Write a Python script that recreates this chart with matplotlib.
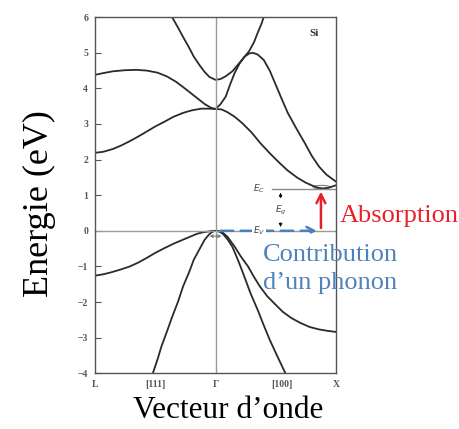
import numpy as np
import matplotlib.pyplot as plt
from matplotlib.patches import Ellipse

plt.rcParams['font.family'] = ['Liberation Serif', 'DejaVu Serif']

# Band structure of Si
# k: -1 = L, 0 = Gamma, 1 = X ; energies in eV
# conduction bands, L side
kc1_L = [-1.0, -0.93, -0.85, -0.75, -0.66, -0.57, -0.48, -0.40, -0.33, -0.27,
         -0.21, -0.15, -0.09, -0.04, 0.0]
Ec1_L = [4.38, 4.43, 4.48, 4.51, 4.52, 4.50, 4.44, 4.33, 4.19, 4.04,
         3.88, 3.72, 3.56, 3.46, 3.42]
kc2_L = [-1.0, -0.93, -0.85, -0.78, -0.71, -0.64, -0.57, -0.50, -0.42, -0.35,
         -0.27, -0.20, -0.12, -0.05, 0.0]
Ec2_L = [2.19, 2.22, 2.30, 2.40, 2.52, 2.65, 2.79, 2.93, 3.07, 3.20,
         3.31, 3.38, 3.43, 3.43, 3.42]
# upper band around Gamma
kc3 = [-0.36, -0.31, -0.27, -0.22, -0.18, -0.13, -0.09, -0.05, 0.0, 0.04,
       0.085, 0.14, 0.19, 0.24, 0.28, 0.32, 0.35, 0.38, 0.40]
Ec3 = [6.0, 5.7, 5.45, 5.15, 4.89, 4.64, 4.46, 4.32, 4.24, 4.26,
       4.34, 4.48, 4.68, 4.88, 5.05, 5.3, 5.56, 5.8, 6.0]
# conduction bands, X side
kc1_X = [0.0, 0.04, 0.085, 0.12, 0.16, 0.20, 0.24, 0.28, 0.31, 0.35, 0.40,
         0.45, 0.50, 0.55, 0.60, 0.67, 0.74, 0.80, 0.86, 0.92, 1.0]
Ec1_X = [3.42, 3.55, 3.77, 4.10, 4.44, 4.70, 4.89, 4.98, 5.0, 4.95, 4.80,
         4.50, 4.10, 3.70, 3.31, 2.88, 2.47, 2.10, 1.80, 1.58, 1.38]
kc2_X = [0.0, 0.05, 0.10, 0.16, 0.22, 0.30, 0.37, 0.45, 0.53, 0.60, 0.68,
         0.75, 0.81, 0.85, 0.89, 0.94, 1.0]
Ec2_X = [3.42, 3.41, 3.33, 3.20, 3.03, 2.76, 2.47, 2.18, 1.91, 1.69, 1.49,
         1.35, 1.26, 1.21, 1.19, 1.21, 1.28]

# valence bands
kv1_L = [-1.0, -0.93, -0.87, -0.79, -0.71, -0.64, -0.57, -0.50, -0.42, -0.34,
         -0.27, -0.20, -0.15, -0.10, -0.04, 0.0]
Ev1_L = [-1.26, -1.22, -1.17, -1.09, -1.0, -0.89, -0.76, -0.62, -0.48, -0.35,
         -0.25, -0.15, -0.08, -0.04, -0.01, 0.0]
kv2_L = [-0.52, -0.48, -0.45, -0.40, -0.36, -0.31, -0.27, -0.22, -0.18, -0.13,
         -0.09, -0.05, -0.02, 0.0]
Ev2_L = [-4.0, -3.6, -3.26, -2.8, -2.42, -1.98, -1.57, -1.17, -0.81, -0.5,
         -0.25, -0.09, -0.02, 0.0]
kv1_X = [0.0, 0.03, 0.06, 0.10, 0.16, 0.21, 0.27, 0.32, 0.37, 0.43, 0.50,
         0.56, 0.63, 0.70, 0.78, 0.86, 0.93, 1.0]
Ev1_X = [0.0, -0.01, -0.05, -0.17, -0.45, -0.72, -1.0, -1.3, -1.57, -1.84, -2.08,
         -2.28, -2.45, -2.58, -2.70, -2.77, -2.81, -2.84]
kv2_X = [0.0, 0.03, 0.06, 0.10, 0.14, 0.19, 0.24, 0.29, 0.35, 0.40, 0.45,
         0.51, 0.58]
Ev2_X = [0.0, -0.02, -0.08, -0.24, -0.45, -0.85, -1.29, -1.75, -2.22, -2.65, -3.06,
         -3.5, -4.0]

bands = [(kc1_L, Ec1_L), (kc2_L, Ec2_L), (kc3, Ec3), (kc1_X, Ec1_X),
         (kc2_X, Ec2_X), (kv1_L, Ev1_L), (kv2_L, Ev2_L), (kv1_X, Ev1_X),
         (kv2_X, Ev2_X)]

E_c = 1.18
E_v = 0.0
k_abs = 0.875

yticks = [6, 5, 4, 3, 2, 1, 0, -1, -2, -3, -4]
kticks = [-1, -0.5, 0, 0.55, 1]
klabels = ['L', '[111]', 'Γ', '[100]', 'X']

fig = plt.figure(figsize=(4.59, 4.29), dpi=100)
ax = fig.add_axes([0.207, 0.130, 0.525, 0.830])

for k, E in bands:
    ax.plot(k, E, color='#2a2a2a', lw=1.3, solid_joinstyle='round',
            solid_capstyle='round')

# guide lines
ax.axvline(0, color='#9a9a9a', lw=1.0)
ax.axhline(E_v, color='#9a9a9a', lw=1.0)
ax.plot([0.47, 1], [E_c, E_c], color='#8a8a8a', lw=1.0)

# phonon (blue dashed) and photon absorption (red)
ax.annotate('', xy=(k_abs - 0.01, E_v), xytext=(0.02, E_v),
            arrowprops=dict(arrowstyle='->', color='#4a7fc0', lw=1.8,
                            linestyle=(0, (5, 3)), mutation_scale=14))
ax.annotate('', xy=(k_abs, E_c), xytext=(k_abs, E_v),
            arrowprops=dict(arrowstyle='->', color='#e8202a', lw=1.8,
                            mutation_scale=16))
# small E_g marker
ax.annotate('', xy=(0.54, E_c - 0.03), xytext=(0.54, 0.85),
            arrowprops=dict(arrowstyle='-|>', color='black', lw=0.6, mutation_scale=5))
ax.annotate('', xy=(0.54, E_v + 0.03), xytext=(0.54, 0.3),
            arrowprops=dict(arrowstyle='-|>', color='black', lw=0.6, mutation_scale=5))
ax.text(0.36, E_c, '$E_C$', fontsize=6.5, color='#444444', ha='center', va='center')
ax.text(0.54, 0.58, '$E_g$', fontsize=6.5, color='#444444', ha='center', va='center')
ax.text(0.36, E_v, '$E_V$', fontsize=6.5, color='#444444', ha='center', va='center',
        bbox=dict(facecolor='white', edgecolor='none', pad=0.5))
ax.add_patch(Ellipse((0.88, 1.23), 0.14, 0.09, fill=False, ec='#6a7f99', lw=0.8))
ax.annotate('', xy=(-0.07, -0.15), xytext=(0.07, -0.15),
            arrowprops=dict(arrowstyle='<->', color='#555555', lw=0.6, mutation_scale=5))

ax.text(0.82, 5.55, 'Si', fontsize=8, fontweight='bold', color='#333333',
        ha='center', va='center')

ax.set_xlim(-1, 1)
ax.set_ylim(-4, 6)
ax.set_yticks(yticks)
ax.set_yticklabels([str(v).replace('-', '−') for v in yticks])
ax.set_xticks(kticks)
ax.set_xticklabels(klabels)
ax.tick_params(axis='y', direction='in', length=4, width=0.8, colors='#555555',
               labelsize=7, pad=5)
ax.tick_params(axis='x', length=0, labelsize=7, colors='#555555', pad=5)
for lab in ax.get_xticklabels() + ax.get_yticklabels():
    lab.set_fontweight('bold')
for s in ax.spines.values():
    s.set_color('#555555')
    s.set_linewidth(1.0)

fig.text(0.087, 0.525, 'Energie (eV)', rotation=90, fontsize=26,
         ha='center', va='center')
fig.text(0.497, 0.044, 'Vecteur d’onde', fontsize=22.5, ha='center', va='center')
fig.text(0.741, 0.497, 'Absorption', fontsize=19, color='#e8202a',
         ha='left', va='center')
fig.text(0.573, 0.406, 'Contribution', fontsize=19, color='#4f81bd',
         ha='left', va='center')
fig.text(0.573, 0.340, 'd’un phonon', fontsize=19, color='#4f81bd',
         ha='left', va='center')

fig.savefig('out.png', dpi=100)
